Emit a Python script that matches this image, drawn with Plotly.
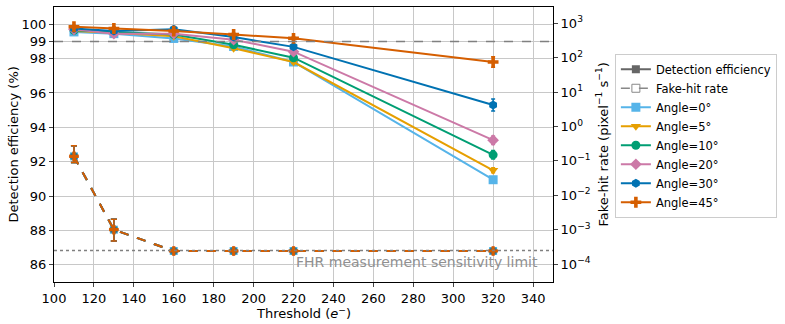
import plotly.graph_objects as go

thresholds = [110, 130, 160, 190, 220, 320]
angles = ["0", "5", "10", "20", "30", "45"]
eff_0 = [99.55, 99.45, 99.17, 98.7, 97.8, 90.95]
eff_5 = [99.6, 99.5, 99.3, 98.6, 97.8, 91.5]
eff_10 = [99.65, 99.55, 99.4, 98.8, 98.05, 92.4]
eff_20 = [99.7, 99.45, 99.45, 99.1, 98.4, 93.25]
eff_30 = [99.75, 99.6, 99.7, 99.25, 98.68, 95.3]
eff_45 = [99.85, 99.75, 99.6, 99.4, 99.18, 97.8]
eff_err_320 = [0.15, 0.15, 0.25, 0.25, 0.35, 0.3]
fhr = [0.135, 1.0e-3, 2.4e-4, 2.4e-4, 2.4e-4, 2.4e-4]
fhr_err_plus = [0.14, 1.0e-3, 0, 0, 0, 0]
fhr_err_minus = [0.045, 5.3e-4, 0, 0, 0, 0]
sensitivity_limit = 2.5e-4
target_eff = 99.0

colors = ["#56B4E9", "#E69F00", "#009E73", "#CC79A7", "#0072B2", "#D55E00"]
symbols = ["square", "triangle-down", "circle", "diamond", "hexagon", "cross"]
effs = [eff_0, eff_5, eff_10, eff_20, eff_30, eff_45]

fig = go.Figure()

# legend dummies
fig.add_trace(go.Scatter(x=[None], y=[None], mode="lines+markers", name="Detection efficiency",
                         line=dict(color="#666666", width=2),
                         marker=dict(symbol="square", size=8, color="#666666")))
fig.add_trace(go.Scatter(x=[None], y=[None], mode="lines+markers", name="Fake-hit rate",
                         line=dict(color="#888888", width=1.5, dash="dash"),
                         marker=dict(symbol="square-open", size=8, color="#888888")))

for i, (a, c, s) in enumerate(zip(angles, colors, symbols)):
    fig.add_trace(go.Scatter(
        x=thresholds, y=fhr, yaxis="y2", mode="lines+markers", showlegend=False,
        line=dict(color=c, width=2, dash="dash"),
        marker=dict(symbol=s, size=8, color=c),
        error_y=dict(type="data", array=fhr_err_plus, arrayminus=fhr_err_minus,
                     color=c, thickness=1.5, width=3),
    ))
for i, (a, c, s, e) in enumerate(zip(angles, colors, symbols, effs)):
    errs = [0.08] * 5 + [eff_err_320[i]]
    fig.add_trace(go.Scatter(
        x=thresholds, y=e, mode="lines+markers", name=f"Angle={a}°",
        line=dict(color=c, width=2),
        marker=dict(symbol=s, size=9, color=c),
        error_y=dict(type="data", array=errs, color=c, thickness=1.5, width=2),
    ))

fig.add_shape(type="line", xref="paper", x0=0, x1=1, yref="y", y0=target_eff, y1=target_eff,
              line=dict(color="#808080", width=1.5, dash="dash"))
fig.add_shape(type="line", xref="paper", x0=0, x1=1, yref="y2",
              y0=sensitivity_limit, y1=sensitivity_limit,
              line=dict(color="#808080", width=1.5, dash="dot"))
fig.add_annotation(x=1.0, y=-3.95, xref="paper", yref="y2", xshift=-13,
                   text="FHR measurement sensitivity limit",
                   showarrow=False, xanchor="right", yanchor="middle",
                   font=dict(color="#909090", size=14))

# axis titles
fig.add_annotation(x=0.5, y=0, xref="paper", yref="paper", yshift=-31,
                   text="Threshold (<i>e</i><sup>−</sup>)", showarrow=False,
                   xanchor="center", yanchor="middle", font=dict(size=13))
fig.add_annotation(x=0, y=0.5, xref="paper", yref="paper", xshift=-41,
                   text="Detection efficiency (%)", showarrow=False, textangle=-90,
                   xanchor="center", yanchor="middle", font=dict(size=13))
fig.add_annotation(x=1, y=0.5, xref="paper", yref="paper", xshift=49,
                   text="Fake-hit rate (pixel<sup>−1</sup> s<sup>−1</sup>)", showarrow=False,
                   textangle=-90, xanchor="center", yanchor="middle", font=dict(size=13))

font = dict(family="DejaVu Sans", size=13, color="black")
fig.update_layout(
    width=785, height=324,
    margin=dict(l=54, r=232, t=7, b=42),
    plot_bgcolor="white", paper_bgcolor="white",
    font=font,
    showlegend=True,
    legend=dict(x=1.124, y=0.83, xanchor="left", yanchor="top",
                bordercolor="#cccccc", borderwidth=1, font=dict(size=11.5, family="DejaVu Sans"),
                tracegroupgap=0, itemwidth=30),
    xaxis=dict(range=[100, 350], tickvals=list(range(100, 341, 20)), automargin=False,
               showgrid=True, gridcolor="#c8c8c8", gridwidth=1,
               showline=True, linecolor="black", linewidth=1, mirror=True,
               ticks="outside", ticklen=4, zeroline=False, tickfont=dict(size=13)),
    yaxis=dict(range=[85, 101], tickvals=[86, 88, 90, 92, 94, 96, 98, 99, 100], automargin=False,
               showgrid=True, gridcolor="#c8c8c8", gridwidth=1,
               showline=True, linecolor="black", linewidth=1,
               ticks="outside", ticklen=4, zeroline=False, tickfont=dict(size=13)),
    yaxis2=dict(overlaying="y", side="right", type="log", range=[-4.52, 3.47], automargin=False,
                tickvals=[1e-4, 1e-3, 1e-2, 1e-1, 1, 10, 100, 1000],
                ticktext=["10<sup>−4</sup>", "10<sup>−3</sup>", "10<sup>−2</sup>", "10<sup>−1</sup>",
                          "10<sup>0</sup>", "10<sup>1</sup>", "10<sup>2</sup>", "10<sup>3</sup>"],
                showgrid=False, showline=True, linecolor="black", linewidth=1,
                ticks="outside", ticklen=4, zeroline=False, tickfont=dict(size=13)),
)

fig.write_html("out.html", config={"displayModeBar": False},
               post_script="document.body.style.margin='0';")
